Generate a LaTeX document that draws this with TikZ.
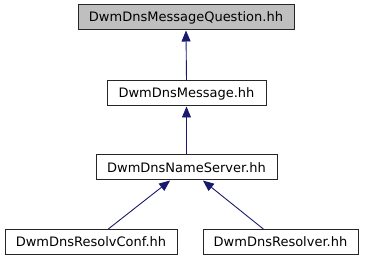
\documentclass[tikz,border=0pt]{standalone}
\usepackage{fontspec}
\setmainfont{DejaVu Sans}
\usetikzlibrary{arrows.meta,calc}
\definecolor{edgeblue}{HTML}{191970}
\definecolor{rootfill}{HTML}{BFBFBF}
\tikzset{
  filebox/.style={draw=black!85, line width=1pt, fill=white, minimum height=25pt, inner sep=0pt, font=\fontsize{13}{15}\selectfont},
  rootbox/.style={filebox, fill=rootfill},
  dep/.style={draw=edgeblue, line width=0.9pt, -{Triangle[length=11pt,width=9pt]}, color=edgeblue}
}
\begin{document}
\begin{tikzpicture}[x=1pt,y=1pt]
\useasboundingbox (0,0) rectangle (365,261);
\node[rootbox, minimum width=216pt] (q) at (186,243.5) {DwmDnsMessageQuestion.hh};
\node[filebox, minimum width=159pt] (m) at (186.5,167.5) {DwmDnsMessage.hh};
\node[filebox, minimum width=181pt] (ns) at (186.5,93.5) {DwmDnsNameServer.hh};
\node[filebox, minimum width=172pt] (rc) at (91,19) {DwmDnsResolvConf.hh};
\node[filebox, minimum width=155pt] (rs) at (280.5,19) {DwmDnsResolver.hh};
\draw[dep] (m.north) -- (q.south);
\draw[dep] (ns.north) -- (m.south);
\draw[dep] ($(rc.north west)!0.6!(rc.north east)$) -- ($(ns.south west)!0.41!(ns.south east)$);
\draw[dep] ($(rs.north west)!0.39!(rs.north east)$) -- ($(ns.south west)!0.59!(ns.south east)$);
\end{tikzpicture}
\end{document}
